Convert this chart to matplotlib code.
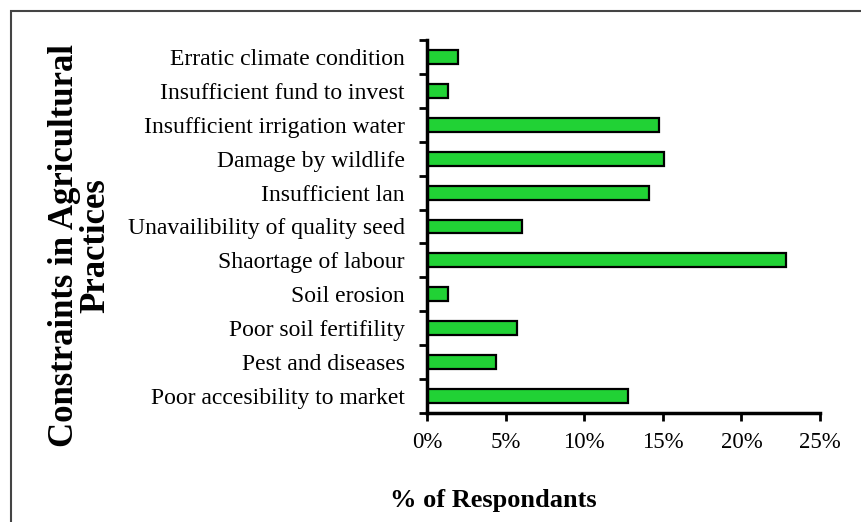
import numpy as np
import matplotlib.pyplot as plt
from matplotlib.patches import Rectangle
from matplotlib.ticker import FixedLocator, PercentFormatter

plt.rcParams['font.family'] = ['Liberation Serif', 'DejaVu Serif']

constraints = ['Erratic climate condition',
               'Insufficient fund to invest',
               'Insufficient irrigation water',
               'Damage by wildlife',
               'Insufficient lan',
               'Unavailibility of quality seed',
               'Shaortage of labour',
               'Soil erosion',
               'Poor soil fertifility',
               'Pest and diseases',
               'Poor accesibility to market']
respondents = [2.0, 1.36, 14.75, 15.1, 14.1, 6.05, 22.85, 1.36, 5.7, 4.37, 12.76]

fig = plt.figure(figsize=(8.62, 5.22), dpi=100)
ax = fig.add_axes([0.4954, 0.2088, 0.4559, 0.7146])

pos = np.arange(len(constraints))
ax.barh(pos, respondents, height=0.41, color='#21d235',
        edgecolor='black', linewidth=1.6)

ax.set_xlim(0, 25)
ax.set_ylim(len(constraints) - 0.5, -0.5)
ax.set_xticks([0, 5, 10, 15, 20, 25])
ax.xaxis.set_major_formatter(PercentFormatter(decimals=0))
ax.set_yticks(pos)
ax.set_yticklabels(constraints)
ax.yaxis.set_minor_locator(FixedLocator(np.arange(-0.5, len(constraints), 1)))

ax.tick_params(axis='y', which='major', length=0, pad=16, labelsize=17)
ax.tick_params(axis='y', which='minor', direction='out', length=6, width=2)
ax.tick_params(axis='x', direction='out', length=6, width=2, pad=8, labelsize=16.5)

for side in ['top', 'right']:
    ax.spines[side].set_visible(False)
for side in ['left', 'bottom']:
    ax.spines[side].set_linewidth(2.5)

fig.text(0.093, 0.53, 'Constraints in Agricultural\nPractices', rotation=90,
         ha='center', va='center', fontsize=25, fontweight='bold',
         linespacing=0.95)
fig.text(0.572, 0.042, '% of Respondants', ha='center', va='center',
         fontsize=19, fontweight='bold')

# frame around the figure, open at right and bottom
fig.patches.append(Rectangle((11 / 862, -0.1), 1.2, 1 - 11 / 522 + 0.1,
                             transform=fig.transFigure, fill=False,
                             edgecolor='#444444', linewidth=1.5))

fig.savefig('out.png', dpi=100)
